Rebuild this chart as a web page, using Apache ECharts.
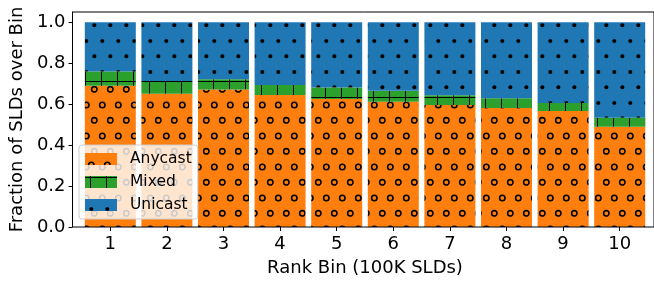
<!DOCTYPE html>
<html>
<head>
<meta charset="utf-8">
<script src="https://cdn.jsdelivr.net/npm/echarts@6/dist/echarts.min.js"></script>
<style>html,body{margin:0;padding:0;background:#fff}#c{width:654px;height:283px}</style>
</head>
<body>
<div id="c"></div>
<script>
const bins = ['1', '2', '3', '4', '5', '6', '7', '8', '9', '10'];
const anycast = [0.690, 0.651, 0.671, 0.645, 0.625, 0.612, 0.596, 0.581, 0.567, 0.489];
const mixed   = [0.069, 0.062, 0.050, 0.049, 0.056, 0.054, 0.047, 0.048, 0.039, 0.045];
const unicast = [0.241, 0.287, 0.279, 0.306, 0.319, 0.334, 0.357, 0.371, 0.394, 0.466];
const yTicks = [0, 0.2, 0.4, 0.6, 0.8, 1.0];
const seriesNames = ['Anycast', 'Mixed', 'Unicast'];

const FONT = 'DejaVu Sans';
const ORANGE = '#ff7f0e', GREEN = '#2ca02c', BLUE = '#1f77b4';

function tile(w, h, bg, draw) {
  const c = document.createElement('canvas');
  c.width = w; c.height = h;
  const ctx = c.getContext('2d');
  ctx.fillStyle = bg; ctx.fillRect(0, 0, w, h);
  draw(ctx, w, h);
  return c;
}
const pts = [[14.3, 27.3], [6.3, 12]];
function eachWrap(w, h, fn) {
  for (const [px, py] of pts)
    for (const dx of [-w, 0, w])
      for (const dy of [-h, 0, h]) fn(px + dx, py + dy);
}
const ringTile = tile(16, 31, ORANGE, (ctx, w, h) => {
  ctx.strokeStyle = '#000'; ctx.lineWidth = 1.6;
  eachWrap(w, h, (x, y) => { ctx.beginPath(); ctx.arc(x, y, 2.7, 0, Math.PI * 2); ctx.stroke(); });
});
const dotTile = tile(16, 31, BLUE, (ctx, w, h) => {
  ctx.fillStyle = '#000';
  eachWrap(w, h, (x, y) => { ctx.beginPath(); ctx.arc(x, y - 2, 2.0, 0, Math.PI * 2); ctx.fill(); });
});
const plusTile = tile(16, 16, GREEN, (ctx) => {
  ctx.fillStyle = '#000';
  ctx.fillRect(5, 0, 1, 16);
  ctx.fillRect(0, 1, 16, 1);
});
const pats = [ringTile, plusTile, dotTile];
const vals = [anycast, mixed, unicast];

const chart = echarts.init(document.getElementById('c'), null, { renderer: 'canvas' });
chart.setOption({
  animation: false,
  grid: [
    { left: 71, right: -1, top: 12, bottom: 56, show: true, borderColor: '#000', borderWidth: 1, backgroundColor: 'transparent', z: 3 },
    { left: 82, width: 566, top: 12, bottom: 56 }
  ],
  legend: {
    orient: 'vertical', left: 79, top: 145,
    data: seriesNames,
    icon: 'rect', itemWidth: 32, itemHeight: 12, itemGap: 7,
    padding: [6, 6, 6, 6],
    backgroundColor: 'rgba(255,255,255,0.8)', borderColor: '#cccccc', borderWidth: 1, borderRadius: 3,
    textStyle: { fontFamily: FONT, fontSize: 15.5, color: '#000', lineHeight: 16, padding: [0, 0, 0, 8] }
  },
  xAxis: [
    { type: 'value', gridIndex: 0, min: 0, max: 1, show: false },
    {
      type: 'category', gridIndex: 1, data: bins,
      splitLine: { show: false },
      axisLine: { show: false },
      axisTick: { show: true, alignWithLabel: true, length: 4, lineStyle: { color: '#000' } },
      axisLabel: { fontFamily: FONT, fontSize: 18, color: '#000', margin: 8 },
      name: 'Rank Bin (100K SLDs)', nameLocation: 'middle', nameGap: 32,
      nameTextStyle: { fontFamily: FONT, fontSize: 18, color: '#000' }
    }
  ],
  yAxis: [
    {
      type: 'value', gridIndex: 0, min: 0, max: 1.05,
      splitLine: { show: false },
      axisLine: { show: true, lineStyle: { color: '#000', width: 1 } },
      axisTick: { show: true, length: 4, lineStyle: { color: '#000' }, customValues: yTicks },
      axisLabel: { customValues: yTicks, formatter: v => Number(v).toFixed(1), fontFamily: FONT, fontSize: 18, color: '#000', margin: 7 },
      name: 'Fraction of SLDs over Bin', nameLocation: 'middle', nameGap: 45, nameRotate: 90,
      nameTextStyle: { fontFamily: FONT, fontSize: 18, color: '#000' }
    },
    { type: 'value', gridIndex: 1, min: 0, max: 1.05, show: false }
  ],
  series: seriesNames.map((name, i) => ({
    name, type: 'bar', stack: 'all', barWidth: 51,
    xAxisIndex: 1, yAxisIndex: 1,
    itemStyle: { color: { image: pats[i], repeat: 'repeat' } },
    data: vals[i]
  }))
});
</script>
</body>
</html>
